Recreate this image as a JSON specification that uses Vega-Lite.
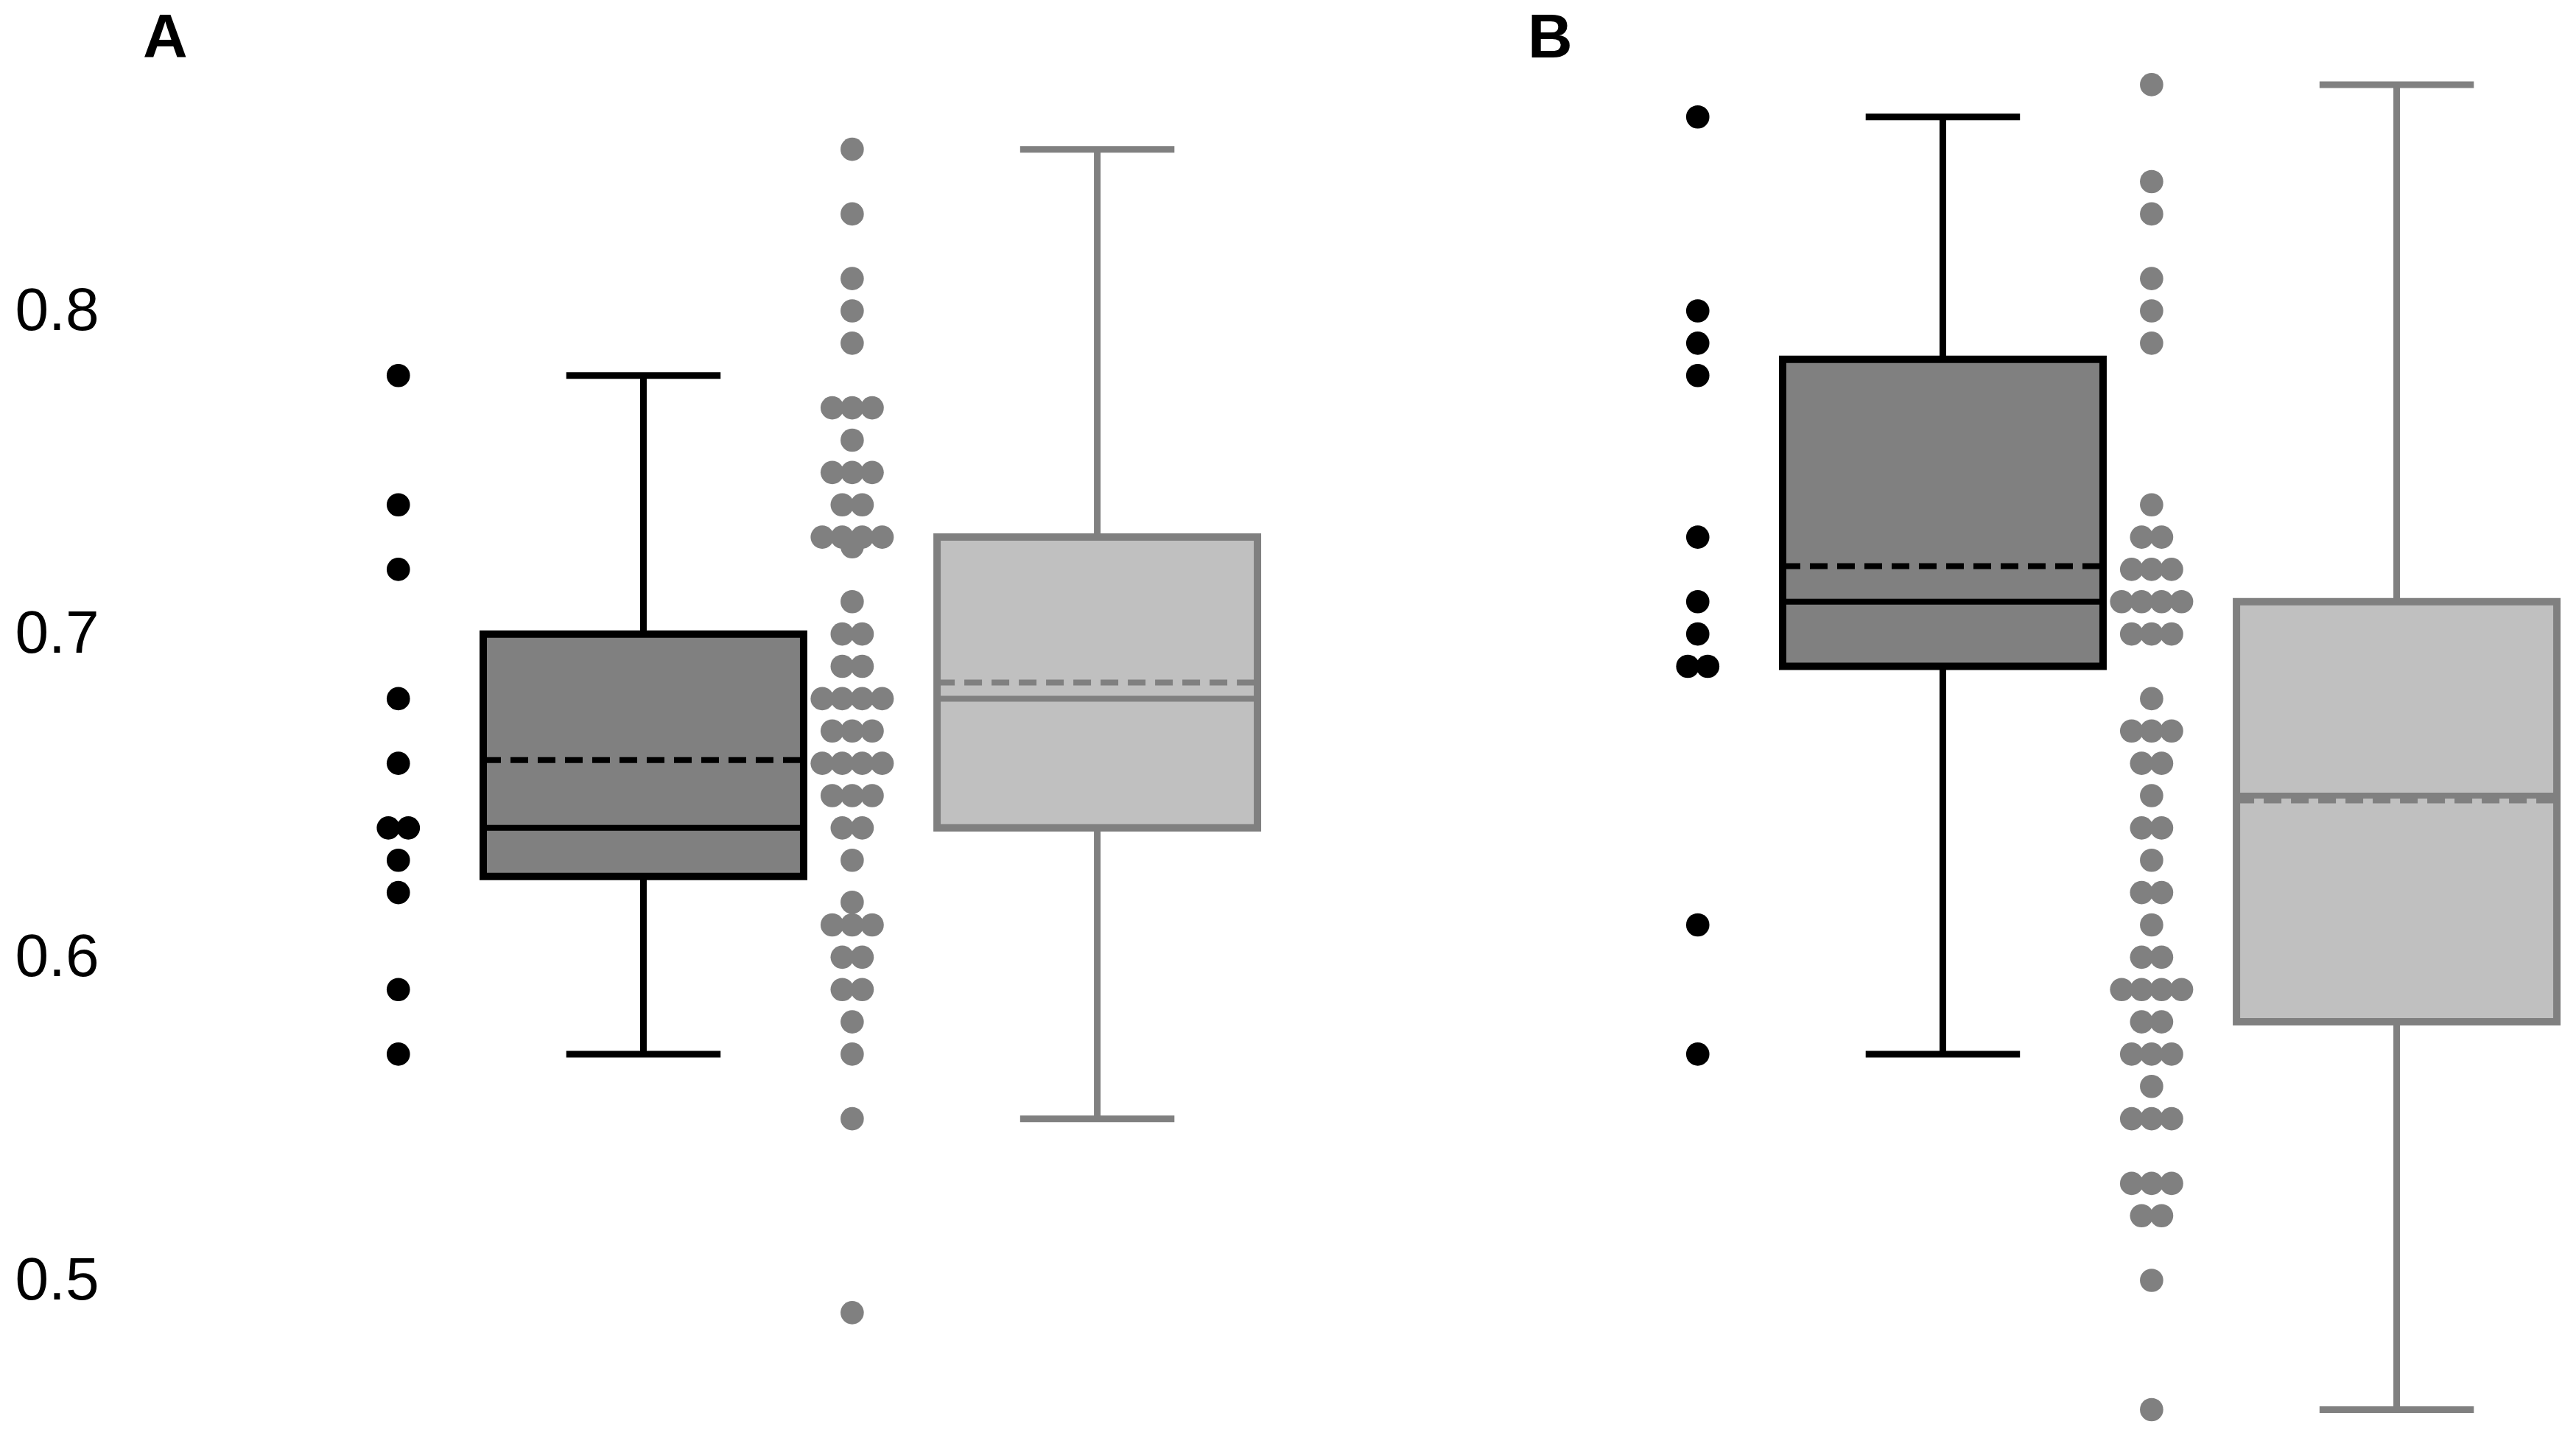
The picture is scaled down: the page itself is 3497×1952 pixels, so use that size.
{
  "$schema": "https://vega.github.io/schema/vega-lite/v6.json",
  "background": "white",
  "padding": {"left": 20, "top": 10, "right": 0, "bottom": 0},
  "datasets": {
    "points": [
      {"panel":"A","group":1,"value":0.78},{"panel":"A","group":1,"value":0.74},{"panel":"A","group":1,"value":0.72},{"panel":"A","group":1,"value":0.68},{"panel":"A","group":1,"value":0.66},{"panel":"A","group":1,"value":0.64},{"panel":"A","group":1,"value":0.64},{"panel":"A","group":1,"value":0.63},{"panel":"A","group":1,"value":0.62},{"panel":"A","group":1,"value":0.59},{"panel":"A","group":1,"value":0.57},
      {"panel":"A","group":2,"value":0.85},{"panel":"A","group":2,"value":0.83},{"panel":"A","group":2,"value":0.81},{"panel":"A","group":2,"value":0.80},{"panel":"A","group":2,"value":0.79},{"panel":"A","group":2,"value":0.77},{"panel":"A","group":2,"value":0.77},{"panel":"A","group":2,"value":0.77},{"panel":"A","group":2,"value":0.76},{"panel":"A","group":2,"value":0.75},{"panel":"A","group":2,"value":0.75},{"panel":"A","group":2,"value":0.75},{"panel":"A","group":2,"value":0.74},{"panel":"A","group":2,"value":0.74},{"panel":"A","group":2,"value":0.73},{"panel":"A","group":2,"value":0.73},{"panel":"A","group":2,"value":0.73},{"panel":"A","group":2,"value":0.73},{"panel":"A","group":2,"value":0.727},{"panel":"A","group":2,"value":0.71},{"panel":"A","group":2,"value":0.70},{"panel":"A","group":2,"value":0.70},{"panel":"A","group":2,"value":0.69},{"panel":"A","group":2,"value":0.69},{"panel":"A","group":2,"value":0.68},{"panel":"A","group":2,"value":0.68},{"panel":"A","group":2,"value":0.68},{"panel":"A","group":2,"value":0.68},{"panel":"A","group":2,"value":0.67},{"panel":"A","group":2,"value":0.67},{"panel":"A","group":2,"value":0.67},{"panel":"A","group":2,"value":0.66},{"panel":"A","group":2,"value":0.66},{"panel":"A","group":2,"value":0.66},{"panel":"A","group":2,"value":0.66},{"panel":"A","group":2,"value":0.65},{"panel":"A","group":2,"value":0.65},{"panel":"A","group":2,"value":0.65},{"panel":"A","group":2,"value":0.64},{"panel":"A","group":2,"value":0.64},{"panel":"A","group":2,"value":0.63},{"panel":"A","group":2,"value":0.617},{"panel":"A","group":2,"value":0.61},{"panel":"A","group":2,"value":0.61},{"panel":"A","group":2,"value":0.61},{"panel":"A","group":2,"value":0.60},{"panel":"A","group":2,"value":0.60},{"panel":"A","group":2,"value":0.59},{"panel":"A","group":2,"value":0.59},{"panel":"A","group":2,"value":0.58},{"panel":"A","group":2,"value":0.57},{"panel":"A","group":2,"value":0.55},{"panel":"A","group":2,"value":0.49},
      {"panel":"B","group":1,"value":0.86},{"panel":"B","group":1,"value":0.80},{"panel":"B","group":1,"value":0.79},{"panel":"B","group":1,"value":0.78},{"panel":"B","group":1,"value":0.73},{"panel":"B","group":1,"value":0.71},{"panel":"B","group":1,"value":0.70},{"panel":"B","group":1,"value":0.69},{"panel":"B","group":1,"value":0.69},{"panel":"B","group":1,"value":0.61},{"panel":"B","group":1,"value":0.57},
      {"panel":"B","group":2,"value":0.87},{"panel":"B","group":2,"value":0.84},{"panel":"B","group":2,"value":0.83},{"panel":"B","group":2,"value":0.81},{"panel":"B","group":2,"value":0.80},{"panel":"B","group":2,"value":0.79},{"panel":"B","group":2,"value":0.74},{"panel":"B","group":2,"value":0.73},{"panel":"B","group":2,"value":0.73},{"panel":"B","group":2,"value":0.72},{"panel":"B","group":2,"value":0.72},{"panel":"B","group":2,"value":0.72},{"panel":"B","group":2,"value":0.71},{"panel":"B","group":2,"value":0.71},{"panel":"B","group":2,"value":0.71},{"panel":"B","group":2,"value":0.71},{"panel":"B","group":2,"value":0.70},{"panel":"B","group":2,"value":0.70},{"panel":"B","group":2,"value":0.70},{"panel":"B","group":2,"value":0.68},{"panel":"B","group":2,"value":0.67},{"panel":"B","group":2,"value":0.67},{"panel":"B","group":2,"value":0.67},{"panel":"B","group":2,"value":0.66},{"panel":"B","group":2,"value":0.66},{"panel":"B","group":2,"value":0.65},{"panel":"B","group":2,"value":0.64},{"panel":"B","group":2,"value":0.64},{"panel":"B","group":2,"value":0.63},{"panel":"B","group":2,"value":0.62},{"panel":"B","group":2,"value":0.62},{"panel":"B","group":2,"value":0.61},{"panel":"B","group":2,"value":0.60},{"panel":"B","group":2,"value":0.60},{"panel":"B","group":2,"value":0.59},{"panel":"B","group":2,"value":0.59},{"panel":"B","group":2,"value":0.59},{"panel":"B","group":2,"value":0.59},{"panel":"B","group":2,"value":0.58},{"panel":"B","group":2,"value":0.58},{"panel":"B","group":2,"value":0.57},{"panel":"B","group":2,"value":0.57},{"panel":"B","group":2,"value":0.57},{"panel":"B","group":2,"value":0.56},{"panel":"B","group":2,"value":0.55},{"panel":"B","group":2,"value":0.55},{"panel":"B","group":2,"value":0.55},{"panel":"B","group":2,"value":0.53},{"panel":"B","group":2,"value":0.53},{"panel":"B","group":2,"value":0.53},{"panel":"B","group":2,"value":0.52},{"panel":"B","group":2,"value":0.52},{"panel":"B","group":2,"value":0.50},{"panel":"B","group":2,"value":0.46}
    ],
    "boxes": [
      {"panel":"A","group":1,"lo":0.57,"q1":0.625,"median":0.64,"q3":0.70,"hi":0.78,"mean":0.661},
      {"panel":"A","group":2,"lo":0.55,"q1":0.64,"median":0.68,"q3":0.73,"hi":0.85,"mean":0.685},
      {"panel":"B","group":1,"lo":0.57,"q1":0.69,"median":0.71,"q3":0.785,"hi":0.86,"mean":0.721},
      {"panel":"B","group":2,"lo":0.46,"q1":0.58,"median":0.65,"q3":0.71,"hi":0.87,"mean":0.6485}
    ]
  },
  "spacing": 204,
  "hconcat": [
    {
      "width": 1560,
      "height": 1316,
      "title": {"text": "A", "anchor": "start", "frame": "group", "dx": 34, "fontSize": 84, "font": "Liberation Sans", "fontWeight": "bold", "color": "#000000", "offset": 91},
      "layer": [
        {
          "data": {"name": "boxes"},
          "transform": [{"filter": "datum.panel == 'A'"}],
          "mark": {"type": "rule", "strokeWidth": 9},
          "encoding": {
            "x": {"field": "group", "type": "quantitative", "scale": {"domain": [-0.158, 2.374], "nice": false, "zero": false}, "axis": null},
            "y": {"field": "lo", "type": "quantitative", "scale": {"domain": [0.5, 0.8], "nice": false, "zero": false},
                  "axis": {"values": [0.5, 0.6, 0.7, 0.8], "format": ".1f", "title": null, "domain": false, "ticks": false, "tickSize": 0, "grid": false, "labelFontSize": 82, "labelFont": "Liberation Sans", "labelColor": "#000000", "labelPadding": 26}},
            "y2": {"field": "hi"},
            "stroke": {"field": "group", "type": "nominal", "scale": {"domain": [1, 2], "range": ["#000000", "#808080"]}, "legend": null}
          }
        },
        {
          "data": {"name": "boxes"},
          "transform": [{"filter": "datum.panel == 'A'"}, {"calculate": "datum.group - 0.17", "as": "cl"}, {"calculate": "datum.group + 0.17", "as": "cr"}],
          "mark": {"type": "rule", "strokeWidth": 9},
          "encoding": {
            "x": {"field": "cl", "type": "quantitative", "scale": {"domain": [-0.158, 2.374], "nice": false, "zero": false}, "axis": null},
            "x2": {"field": "cr"},
            "y": {"field": "lo", "type": "quantitative", "scale": {"domain": [0.5, 0.8], "nice": false, "zero": false},
                  "axis": {"values": [0.5, 0.6, 0.7, 0.8], "format": ".1f", "title": null, "domain": false, "ticks": false, "tickSize": 0, "grid": false, "labelFontSize": 82, "labelFont": "Liberation Sans", "labelColor": "#000000", "labelPadding": 26}},
            "stroke": {"field": "group", "type": "nominal", "scale": {"domain": [1, 2], "range": ["#000000", "#808080"]}, "legend": null}
          }
        },
        {
          "data": {"name": "boxes"},
          "transform": [{"filter": "datum.panel == 'A'"}, {"calculate": "datum.group - 0.17", "as": "cl"}, {"calculate": "datum.group + 0.17", "as": "cr"}],
          "mark": {"type": "rule", "strokeWidth": 9},
          "encoding": {
            "x": {"field": "cl", "type": "quantitative", "scale": {"domain": [-0.158, 2.374], "nice": false, "zero": false}, "axis": null},
            "x2": {"field": "cr"},
            "y": {"field": "hi", "type": "quantitative", "scale": {"domain": [0.5, 0.8], "nice": false, "zero": false},
                  "axis": {"values": [0.5, 0.6, 0.7, 0.8], "format": ".1f", "title": null, "domain": false, "ticks": false, "tickSize": 0, "grid": false, "labelFontSize": 82, "labelFont": "Liberation Sans", "labelColor": "#000000", "labelPadding": 26}},
            "stroke": {"field": "group", "type": "nominal", "scale": {"domain": [1, 2], "range": ["#000000", "#808080"]}, "legend": null}
          }
        },
        {
          "data": {"name": "boxes"},
          "transform": [{"filter": "datum.panel == 'A'"}, {"calculate": "datum.group - 0.353", "as": "xl"}, {"calculate": "datum.group + 0.353", "as": "xr"}],
          "mark": {"type": "rect", "strokeWidth": 10},
          "encoding": {
            "x": {"field": "xl", "type": "quantitative", "scale": {"domain": [-0.158, 2.374], "nice": false, "zero": false}, "axis": null},
            "x2": {"field": "xr"},
            "y": {"field": "q1", "type": "quantitative", "scale": {"domain": [0.5, 0.8], "nice": false, "zero": false},
                  "axis": {"values": [0.5, 0.6, 0.7, 0.8], "format": ".1f", "title": null, "domain": false, "ticks": false, "tickSize": 0, "grid": false, "labelFontSize": 82, "labelFont": "Liberation Sans", "labelColor": "#000000", "labelPadding": 26}},
            "y2": {"field": "q3"},
            "fill": {"field": "group", "type": "nominal", "scale": {"domain": [1, 2], "range": ["#808080", "#c0c0c0"]}, "legend": null},
            "stroke": {"field": "group", "type": "nominal", "scale": {"domain": [1, 2], "range": ["#000000", "#808080"]}, "legend": null}
          }
        },
        {
          "data": {"name": "boxes"},
          "transform": [{"filter": "datum.panel == 'A'"}, {"calculate": "datum.group - 0.353", "as": "xl"}, {"calculate": "datum.group + 0.353", "as": "xr"}],
          "mark": {"type": "rule", "strokeWidth": 8},
          "encoding": {
            "x": {"field": "xl", "type": "quantitative", "scale": {"domain": [-0.158, 2.374], "nice": false, "zero": false}, "axis": null},
            "x2": {"field": "xr"},
            "y": {"field": "median", "type": "quantitative", "scale": {"domain": [0.5, 0.8], "nice": false, "zero": false},
                  "axis": {"values": [0.5, 0.6, 0.7, 0.8], "format": ".1f", "title": null, "domain": false, "ticks": false, "tickSize": 0, "grid": false, "labelFontSize": 82, "labelFont": "Liberation Sans", "labelColor": "#000000", "labelPadding": 26}},
            "stroke": {"field": "group", "type": "nominal", "scale": {"domain": [1, 2], "range": ["#000000", "#808080"]}, "legend": null}
          }
        },
        {
          "data": {"name": "boxes"},
          "transform": [{"filter": "datum.panel == 'A'"}, {"calculate": "datum.group - 0.353", "as": "xl"}, {"calculate": "datum.group + 0.353", "as": "xr"}],
          "mark": {"type": "rule", "strokeWidth": 8, "strokeDash": [24, 13]},
          "encoding": {
            "x": {"field": "xl", "type": "quantitative", "scale": {"domain": [-0.158, 2.374], "nice": false, "zero": false}, "axis": null},
            "x2": {"field": "xr"},
            "y": {"field": "mean", "type": "quantitative", "scale": {"domain": [0.5, 0.8], "nice": false, "zero": false},
                  "axis": {"values": [0.5, 0.6, 0.7, 0.8], "format": ".1f", "title": null, "domain": false, "ticks": false, "tickSize": 0, "grid": false, "labelFontSize": 82, "labelFont": "Liberation Sans", "labelColor": "#000000", "labelPadding": 26}},
            "stroke": {"field": "group", "type": "nominal", "scale": {"domain": [1, 2], "range": ["#000000", "#808080"]}, "legend": null}
          }
        },
        {
          "data": {"name": "points"},
          "transform": [
            {"filter": "datum.panel == 'A'"},
            {"window": [{"op": "row_number", "as": "k"}], "groupby": ["group", "value"]},
            {"joinaggregate": [{"op": "count", "as": "n"}], "groupby": ["group", "value"]},
            {"calculate": "datum.group - 0.54 + (datum.k - (datum.n + 1) / 2) * 0.044", "as": "xp"}
          ],
          "mark": {"type": "circle", "size": 1000, "opacity": 1},
          "encoding": {
            "x": {"field": "xp", "type": "quantitative", "scale": {"domain": [-0.158, 2.374], "nice": false, "zero": false}, "axis": null},
            "y": {"field": "value", "type": "quantitative", "scale": {"domain": [0.5, 0.8], "nice": false, "zero": false},
                  "axis": {"values": [0.5, 0.6, 0.7, 0.8], "format": ".1f", "title": null, "domain": false, "ticks": false, "tickSize": 0, "grid": false, "labelFontSize": 82, "labelFont": "Liberation Sans", "labelColor": "#000000", "labelPadding": 26}},
            "color": {"field": "group", "type": "nominal", "scale": {"domain": [1, 2], "range": ["#000000", "#808080"]}, "legend": null}
          }
        }
      ]
    },
    {
      "width": 1560,
      "height": 1316,
      "title": {"text": "B", "anchor": "start", "frame": "group", "dx": 150, "fontSize": 84, "font": "Liberation Sans", "fontWeight": "bold", "color": "#000000", "offset": 3},
      "layer": [
        {
          "data": {"name": "boxes"},
          "transform": [{"filter": "datum.panel == 'B'"}],
          "mark": {"type": "rule", "strokeWidth": 9},
          "encoding": {
            "x": {"field": "group", "type": "quantitative", "scale": {"domain": [-0.158, 2.374], "nice": false, "zero": false}, "axis": null},
            "y": {"field": "lo", "type": "quantitative", "scale": {"domain": [0.5, 0.8], "nice": false, "zero": false}, "axis": null},
            "y2": {"field": "hi"},
            "stroke": {"field": "group", "type": "nominal", "scale": {"domain": [1, 2], "range": ["#000000", "#808080"]}, "legend": null}
          }
        },
        {
          "data": {"name": "boxes"},
          "transform": [{"filter": "datum.panel == 'B'"}, {"calculate": "datum.group - 0.17", "as": "cl"}, {"calculate": "datum.group + 0.17", "as": "cr"}],
          "mark": {"type": "rule", "strokeWidth": 9},
          "encoding": {
            "x": {"field": "cl", "type": "quantitative", "scale": {"domain": [-0.158, 2.374], "nice": false, "zero": false}, "axis": null},
            "x2": {"field": "cr"},
            "y": {"field": "lo", "type": "quantitative", "scale": {"domain": [0.5, 0.8], "nice": false, "zero": false}, "axis": null},
            "stroke": {"field": "group", "type": "nominal", "scale": {"domain": [1, 2], "range": ["#000000", "#808080"]}, "legend": null}
          }
        },
        {
          "data": {"name": "boxes"},
          "transform": [{"filter": "datum.panel == 'B'"}, {"calculate": "datum.group - 0.17", "as": "cl"}, {"calculate": "datum.group + 0.17", "as": "cr"}],
          "mark": {"type": "rule", "strokeWidth": 9},
          "encoding": {
            "x": {"field": "cl", "type": "quantitative", "scale": {"domain": [-0.158, 2.374], "nice": false, "zero": false}, "axis": null},
            "x2": {"field": "cr"},
            "y": {"field": "hi", "type": "quantitative", "scale": {"domain": [0.5, 0.8], "nice": false, "zero": false}, "axis": null},
            "stroke": {"field": "group", "type": "nominal", "scale": {"domain": [1, 2], "range": ["#000000", "#808080"]}, "legend": null}
          }
        },
        {
          "data": {"name": "boxes"},
          "transform": [{"filter": "datum.panel == 'B'"}, {"calculate": "datum.group - 0.353", "as": "xl"}, {"calculate": "datum.group + 0.353", "as": "xr"}],
          "mark": {"type": "rect", "strokeWidth": 10},
          "encoding": {
            "x": {"field": "xl", "type": "quantitative", "scale": {"domain": [-0.158, 2.374], "nice": false, "zero": false}, "axis": null},
            "x2": {"field": "xr"},
            "y": {"field": "q1", "type": "quantitative", "scale": {"domain": [0.5, 0.8], "nice": false, "zero": false}, "axis": null},
            "y2": {"field": "q3"},
            "fill": {"field": "group", "type": "nominal", "scale": {"domain": [1, 2], "range": ["#808080", "#c0c0c0"]}, "legend": null},
            "stroke": {"field": "group", "type": "nominal", "scale": {"domain": [1, 2], "range": ["#000000", "#808080"]}, "legend": null}
          }
        },
        {
          "data": {"name": "boxes"},
          "transform": [{"filter": "datum.panel == 'B'"}, {"calculate": "datum.group - 0.353", "as": "xl"}, {"calculate": "datum.group + 0.353", "as": "xr"}],
          "mark": {"type": "rule", "strokeWidth": 8},
          "encoding": {
            "x": {"field": "xl", "type": "quantitative", "scale": {"domain": [-0.158, 2.374], "nice": false, "zero": false}, "axis": null},
            "x2": {"field": "xr"},
            "y": {"field": "median", "type": "quantitative", "scale": {"domain": [0.5, 0.8], "nice": false, "zero": false}, "axis": null},
            "stroke": {"field": "group", "type": "nominal", "scale": {"domain": [1, 2], "range": ["#000000", "#808080"]}, "legend": null}
          }
        },
        {
          "data": {"name": "boxes"},
          "transform": [{"filter": "datum.panel == 'B'"}, {"calculate": "datum.group - 0.353", "as": "xl"}, {"calculate": "datum.group + 0.353", "as": "xr"}],
          "mark": {"type": "rule", "strokeWidth": 8, "strokeDash": [24, 13]},
          "encoding": {
            "x": {"field": "xl", "type": "quantitative", "scale": {"domain": [-0.158, 2.374], "nice": false, "zero": false}, "axis": null},
            "x2": {"field": "xr"},
            "y": {"field": "mean", "type": "quantitative", "scale": {"domain": [0.5, 0.8], "nice": false, "zero": false}, "axis": null},
            "stroke": {"field": "group", "type": "nominal", "scale": {"domain": [1, 2], "range": ["#000000", "#808080"]}, "legend": null}
          }
        },
        {
          "data": {"name": "points"},
          "transform": [
            {"filter": "datum.panel == 'B'"},
            {"window": [{"op": "row_number", "as": "k"}], "groupby": ["group", "value"]},
            {"joinaggregate": [{"op": "count", "as": "n"}], "groupby": ["group", "value"]},
            {"calculate": "datum.group - 0.54 + (datum.k - (datum.n + 1) / 2) * 0.044", "as": "xp"}
          ],
          "mark": {"type": "circle", "size": 1000, "opacity": 1},
          "encoding": {
            "x": {"field": "xp", "type": "quantitative", "scale": {"domain": [-0.158, 2.374], "nice": false, "zero": false}, "axis": null},
            "y": {"field": "value", "type": "quantitative", "scale": {"domain": [0.5, 0.8], "nice": false, "zero": false}, "axis": null},
            "color": {"field": "group", "type": "nominal", "scale": {"domain": [1, 2], "range": ["#000000", "#808080"]}, "legend": null}
          }
        }
      ]
    }
  ],
  "config": {"view": {"stroke": null}}
}
